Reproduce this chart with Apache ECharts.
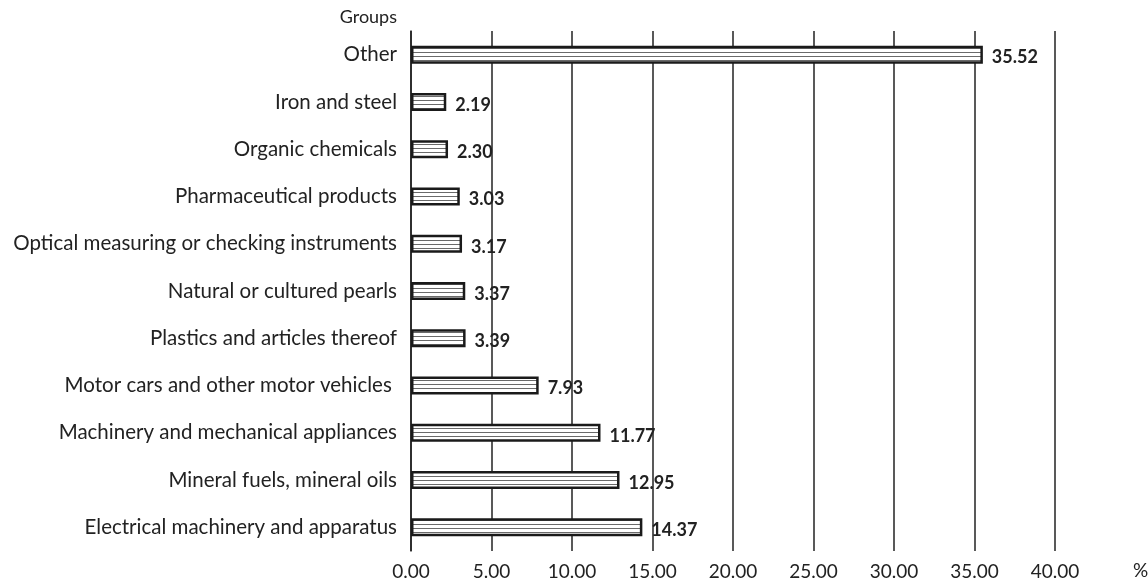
<!DOCTYPE html>
<html><head><meta charset="utf-8">
<script src="https://cdn.jsdelivr.net/npm/echarts@6/dist/echarts.min.js"></script>
<style>html,body{margin:0;padding:0;background:#fff}#c{width:1148px;height:581px}</style>
</head><body><div id="c"></div>
<script>
const categories = [
  "Electrical machinery and apparatus",
  "Mineral fuels, mineral oils",
  "Machinery and mechanical appliances",
  "Motor cars and other motor vehicles ",
  "Plastics and articles thereof",
  "Natural or cultured pearls",
  "Optical measuring or checking instruments",
  "Pharmaceutical products",
  "Organic chemicals",
  "Iron and steel",
  "Other"
];
const values = [14.37, 12.95, 11.77, 7.93, 3.39, 3.37, 3.17, 3.03, 2.30, 2.19, 35.52];
const xTicks = [0, 5, 10, 15, 20, 25, 30, 35, 40];

const pc = document.createElement('canvas');
pc.width = 8; pc.height = 4;
const g = pc.getContext('2d');
g.fillStyle = '#ffffff'; g.fillRect(0, 0, 8, 4);
g.fillStyle = '#6a6a6a'; g.fillRect(0, 0, 8, 1);

const FONT = 'Lato, "Open Sans", sans-serif';
const chart = echarts.init(document.getElementById('c'));
chart.setOption({
  animation: false,
  backgroundColor: '#fff',
  grid: { left: 411, right: 93, top: 31, bottom: 30, containLabel: false, outerBoundsMode: 'none' },
  xAxis: {
    type: 'value', min: xTicks[0], max: xTicks[xTicks.length - 1], interval: 5,
    name: '%', nameLocation: 'end', nameGap: 0,
    nameTextStyle: { color: '#222', fontSize: 19, fontFamily: FONT, align: 'left', verticalAlign: 'top', padding: [10, 0, 0, 78] },
    axisLine: { show: false }, axisTick: { show: false },
    splitLine: { show: true, lineStyle: { color: '#222', width: 1.5 } },
    axisLabel: { color: '#222', fontSize: 19, fontFamily: FONT, margin: 11, formatter: v => v.toFixed(2) }
  },
  yAxis: {
    type: 'category', data: categories,
    name: 'Groups', nameLocation: 'end', nameGap: 5,
    nameTextStyle: { color: '#222', fontSize: 18, fontFamily: FONT, align: 'right', padding: [0, 14, 0, 0] },
    axisLine: { show: true, lineStyle: { color: '#222', width: 1.5 } },
    axisTick: { show: false },
    axisLabel: { color: '#222', fontSize: 20.5, fontFamily: FONT, margin: 14 }
  },
  series: [{
    type: 'bar', data: values, barWidth: 18,
    itemStyle: { color: { image: pc, repeat: 'repeat' }, borderColor: '#1a1a1a', borderWidth: 2.5 },
    label: { show: true, position: 'right', distance: 9, offset: [0, 3], color: '#222', fontWeight: 'bold', fontSize: 18, fontFamily: FONT, formatter: p => p.value.toFixed(2) }
  }]
});
</script></body></html>
